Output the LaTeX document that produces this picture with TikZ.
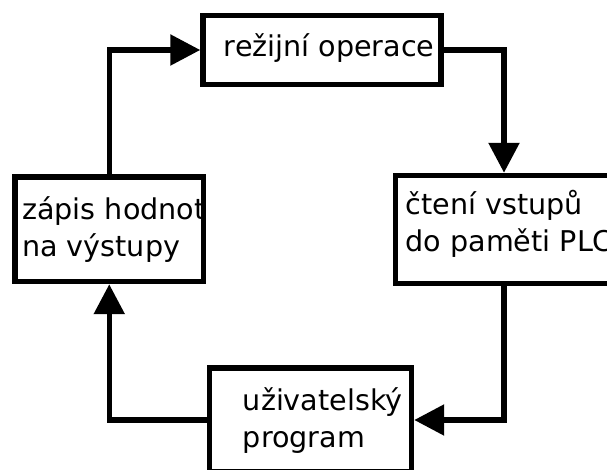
\documentclass[tikz,border=0pt]{standalone}
\usepackage{fontspec}
\setmainfont{DejaVu Sans}
\usetikzlibrary{arrows.meta,fit}
\begin{document}
\begin{tikzpicture}[x=0.75pt,y=-0.75pt,
  box/.style={draw, line width=4.1pt, inner sep=0pt},
  txt/.style={inner sep=0pt, anchor=base west, font=\fontsize{21.45pt}{27.75pt}\selectfont},
  conn/.style={line width=4.1pt, -{Triangle[length=22.5pt,width=22.5pt]}}]
\clip (0,0) rectangle (607,470);
% texts
\node[txt] (t1) at (223.6,57) {režijní operace};
\node[txt] (r1) at (405.4,215) {čtení vstupů};
\node[txt] (r2) at (405.4,252) {do paměti PLC};
\node[txt] (l1) at (22,220) {zápis hodnot};
\node[txt] (l2) at (22,257) {na výstupy};
\node[txt] (b1) at (242.6,410) {uživatelský};
\node[txt] (b2) at (242.6,447) {program};
% boxes
\node[box, fit={(203,15.5) (441,84.5)}] (top) {};
\node[box, fit={(395.5,175.5) (612.5,283.5)}] (right) {};
\node[box, fit={(209.5,368) (411.5,472)}] (bottom) {};
\node[box, fit={(15,177) (203.5,281.5)}] (left) {};
% connectors
\draw[conn] (left.north) |- (top.west);
\draw[conn] (top.east) -| (right.north);
\draw[conn] (right.south) |- (bottom.east);
\draw[conn] (bottom.west) -| (left.south);
\end{tikzpicture}
\end{document}
